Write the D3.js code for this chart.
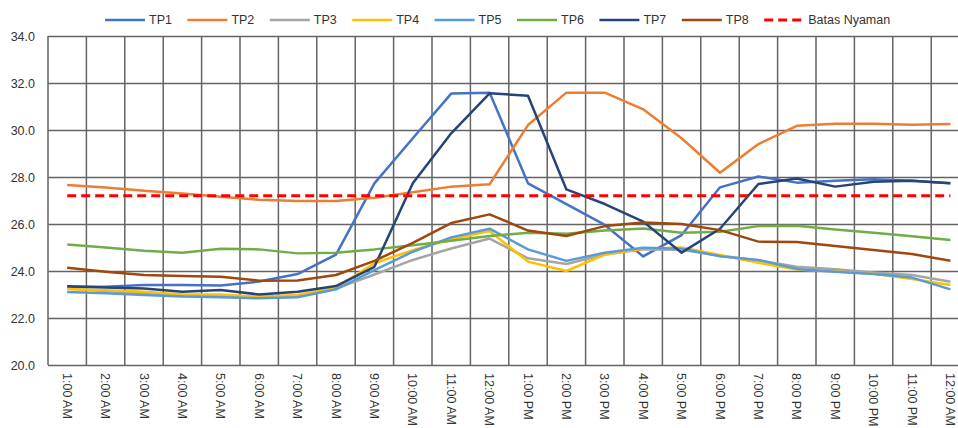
<!DOCTYPE html>
<html>
<head>
<meta charset="utf-8">
<script src="https://cdn.jsdelivr.net/npm/d3@7/dist/d3.min.js"></script>
<style>
  html, body { margin: 0; padding: 0; background: #fff; }
  svg { display: block; }
  text { font-family: "Liberation Sans", Arial, sans-serif; fill: #333; }
</style>
</head>
<body>
<svg id="chart" width="958" height="428"></svg>
<script>
const hours = ["1:00 AM","2:00 AM","3:00 AM","4:00 AM","5:00 AM","6:00 AM","7:00 AM","8:00 AM","9:00 AM","10:00 AM","11:00 AM","12:00 AM",
               "1:00 PM","2:00 PM","3:00 PM","4:00 PM","5:00 PM","6:00 PM","7:00 PM","8:00 PM","9:00 PM","10:00 PM","11:00 PM","12:00 AM"];
const yTicks = [20, 22, 24, 26, 28, 30, 32, 34];

const TP1 = [23.33,23.33,23.40,23.40,23.38,23.55,23.87,24.70,27.73,29.65,31.55,31.59,27.73,26.85,25.96,24.62,25.53,27.56,28.02,27.76,27.84,27.90,27.84,27.73];
const TP2 = [27.66,27.55,27.42,27.30,27.16,27.03,26.98,26.98,27.12,27.35,27.59,27.69,30.21,31.59,31.59,30.88,29.65,28.18,29.40,30.18,30.27,30.27,30.22,30.26];
const TP3 = [23.25,23.15,23.05,22.95,22.95,22.88,22.95,23.25,23.85,24.47,24.96,25.38,24.54,24.30,24.70,24.92,24.90,24.65,24.45,24.18,24.07,23.94,23.83,23.54];
const TP4 = [23.23,23.18,23.12,23.00,23.00,22.90,22.98,23.30,24.33,24.89,25.35,25.70,24.40,24.00,24.70,24.95,25.00,24.68,24.35,24.06,23.98,23.88,23.66,23.40];
const TP5 = [23.11,23.05,22.98,22.91,22.88,22.84,22.88,23.22,24.04,24.82,25.43,25.80,24.92,24.43,24.78,24.99,24.95,24.63,24.47,24.09,23.97,23.87,23.72,23.22];
const TP6 = [25.13,25.00,24.86,24.78,24.95,24.92,24.75,24.78,24.92,25.10,25.29,25.49,25.63,25.58,25.72,25.81,25.63,25.67,25.91,25.93,25.77,25.63,25.48,25.32];
const TP7 = [23.35,23.30,23.26,23.12,23.19,23.00,23.12,23.36,24.18,27.73,29.86,31.56,31.46,27.47,26.85,26.10,24.78,25.80,27.70,27.94,27.59,27.80,27.84,27.73];
const TP8 = [24.14,23.97,23.83,23.79,23.76,23.59,23.60,23.83,24.43,25.20,26.04,26.41,25.72,25.49,25.91,26.06,26.00,25.74,25.25,25.23,25.06,24.89,24.72,24.44];
const batasNyaman = 27.2;

const seriesNames = ["TP1","TP2","TP3","TP4","TP5","TP6","TP7","TP8"];
const seriesValues = [TP1, TP2, TP3, TP4, TP5, TP6, TP7, TP8];
const seriesColors = ["#4472C4","#ED7D31","#A5A5A5","#FFC000","#5B9BD5","#70AD47","#264478","#9E480E"];
const batasLabel = "Batas Nyaman";
const batasColor = "#FF0000";

(function draw() {
const svg = d3.select("#chart");
const pLeft = 48, pTop = 36, pBottom = 365, step = 38.4;
const pRight = pLeft + step * hours.length;

const x = d3.scaleBand().domain(d3.range(hours.length)).range([pLeft, pRight]).paddingInner(0).paddingOuter(0);
const y = d3.scaleLinear().domain([20, 34]).range([pBottom, pTop]);
const cx = i => x(i) + x.bandwidth() / 2;

const gridColor = "#646464";

// horizontal grid + y labels
const yAxis = svg.append("g")
  .attr("transform", `translate(${pLeft},0)`)
  .call(d3.axisLeft(y).tickValues(yTicks).tickFormat(d3.format(".1f")).tickSize(-(pRight - pLeft)).tickPadding(13));
yAxis.select(".domain").remove();
yAxis.selectAll(".tick line").attr("stroke", gridColor).attr("stroke-width", 1.5);
yAxis.selectAll(".tick text").attr("font-size", 12.5).attr("fill", "#333");

// vertical grid at band boundaries
svg.append("g").selectAll("line")
  .data(d3.range(hours.length + 1))
  .join("line")
  .attr("x1", i => i < hours.length ? x(i) : pRight)
  .attr("x2", i => i < hours.length ? x(i) : pRight)
  .attr("y1", y(34)).attr("y2", y(20))
  .attr("stroke", gridColor).attr("stroke-width", 1.5);

// x axis labels
const xAxis = svg.append("g")
  .attr("transform", `translate(0,${pBottom})`)
  .call(d3.axisBottom(x).tickSize(0).tickFormat(i => hours[i]));
xAxis.select(".domain").remove();
xAxis.selectAll(".tick text")
  .attr("font-size", 12.5)
  .attr("fill", "#333")
  .attr("text-anchor", "start")
  .attr("transform", "rotate(90)")
  .attr("x", 8)
  .attr("y", 0)
  .attr("dy", "0.35em");

// series lines
const line = d3.line().x((d, i) => cx(i)).y(d => y(d));
seriesValues.forEach((vals, k) => {
  svg.append("path")
    .datum(vals)
    .attr("fill", "none")
    .attr("stroke", seriesColors[k])
    .attr("stroke-width", 2.5)
    .attr("stroke-linejoin", "round")
    .attr("d", line);
});

// comfort limit
svg.append("line")
  .attr("x1", cx(0)).attr("x2", cx(hours.length - 1))
  .attr("y1", y(batasNyaman)).attr("y2", y(batasNyaman))
  .attr("stroke", batasColor).attr("stroke-width", 3)
  .attr("stroke-dasharray", "9,5");

// legend
const legendItems = seriesNames.map((n, k) => ({ name: n, color: seriesColors[k], dash: null }))
  .concat([{ name: batasLabel, color: batasColor, dash: "9,5" }]);
const legendX0 = 105, legendStep = 82.4, legendY = 20;
const lg = svg.append("g").selectAll("g").data(legendItems).join("g")
  .attr("transform", (d, i) => `translate(${legendX0 + i * legendStep},${legendY})`);
lg.append("line")
  .attr("x1", 0).attr("x2", 40).attr("y1", 0).attr("y2", 0)
  .attr("stroke", d => d.color).attr("stroke-width", d => d.dash ? 3 : 2.5)
  .attr("stroke-dasharray", d => d.dash);
lg.append("text")
  .attr("x", 44).attr("y", 0).attr("dy", "0.35em")
  .attr("font-size", 12.5).attr("fill", "#333")
  .text(d => d.name);
})();
</script>
</body>
</html>
